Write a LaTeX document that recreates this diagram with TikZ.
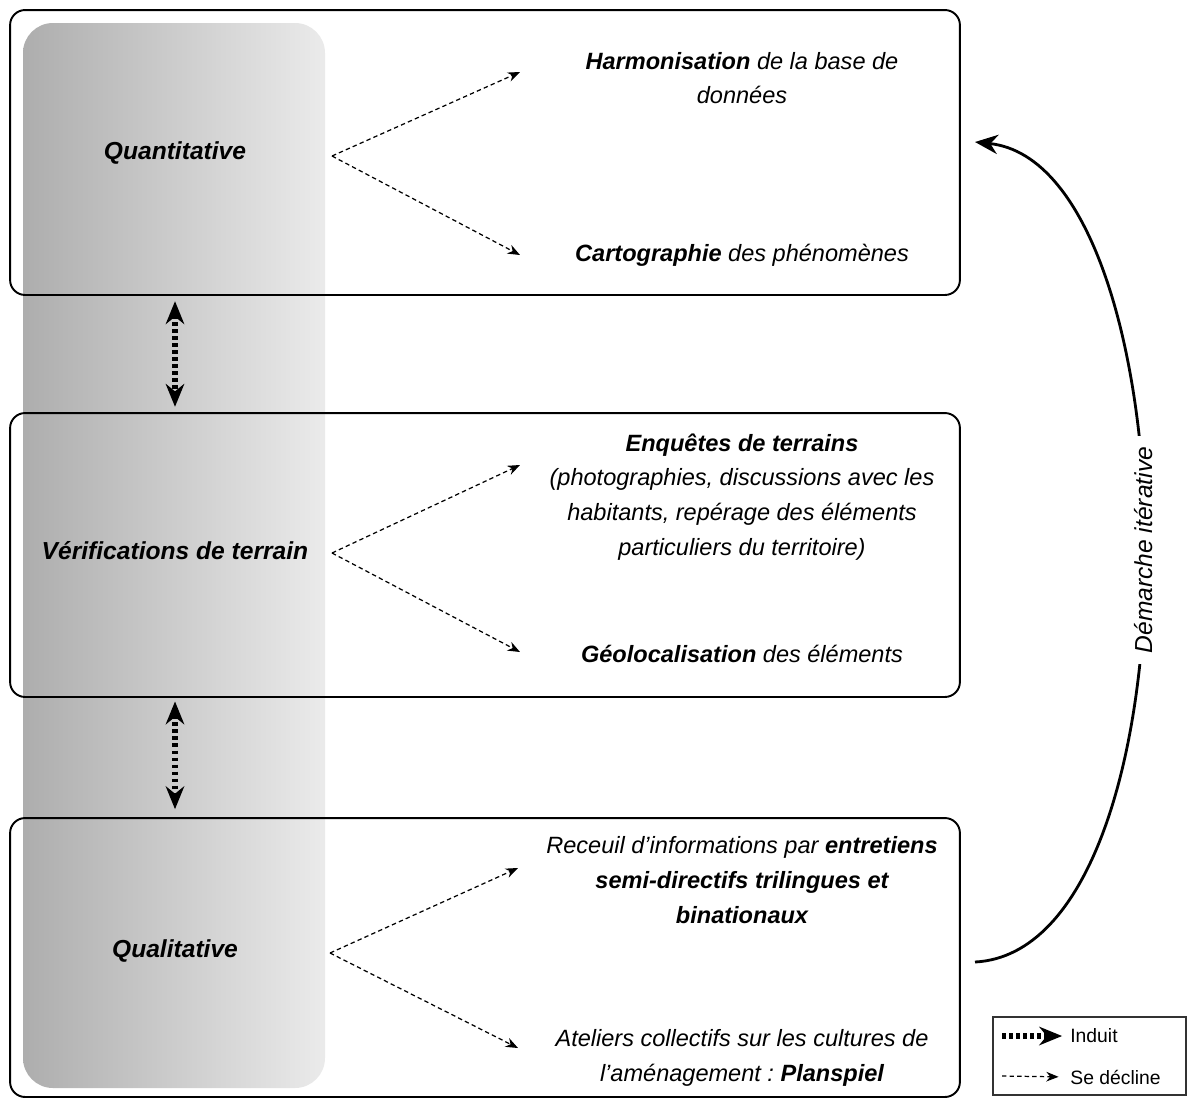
\documentclass[tikz,border=0pt]{standalone}
\usepackage{fontspec}
\setmainfont{Liberation Sans}
\usetikzlibrary{arrows.meta}

\begin{document}
\begin{tikzpicture}[x=0.02cm,y=-0.02cm,
  txt/.style={font=\fontsize{14pt}{19.8pt}\selectfont\itshape\frenchspacing,align=center,inner sep=0pt},
  detail/.style={txt,font=\fontsize{13.4pt}{19.8pt}\selectfont\itshape\frenchspacing},
  legtxt/.style={font=\fontsize{11pt}{13pt}\selectfont,anchor=west,inner sep=0pt},
  cadre/.style={draw,line width=1.1pt,rounded corners=0.3cm,minimum width=19cm,inner sep=0pt},
  decline/.style={-{Stealth[length=7pt,width=5.5pt]},line width=0.7pt,dash pattern=on 2.5pt off 1.8pt},
  induit/.style={line width=3.4pt,dash pattern=on 2pt off 2pt},
  tete/.tip={Stealth[length=13pt,width=10.5pt]}]
\useasboundingbox (0,0) rectangle (1187,1100);

\shade[left color=black!32,right color=black!8,rounded corners=0.6cm] (23,23) rectangle (325,1088);

\node[cadre,minimum height=5.7cm] (quanti) at (485,152.5) {};
\node[cadre,minimum height=5.68cm] (terrain) at (485,555) {};
\node[cadre,minimum height=5.58cm] (quali) at (485,957.5) {};

\node[txt] (lquanti) at (175,153) {\bfseries Quantitative};
\node[txt] (lterrain) at (175,551) {\bfseries Vérifications de terrain};
\node[txt] (lquali) at (175,951) {\bfseries Qualitative};

\node[detail] (harmo) at (742,78) {\textbf{Harmonisation} de la base de\\données};
\node[detail] (carto) at (742,255) {\textbf{Cartographie} des phénomènes};
\node[detail] (enquete) at (742,497) {\textbf{Enquêtes de terrains}\\(photographies, discussions avec les\\habitants, repérage des éléments\\particuliers du territoire)};
\node[detail] (geoloc) at (742,654) {\textbf{Géolocalisation} des éléments};
\node[detail] (receuil) at (742,880) {Receuil d’informations par \textbf{entretiens}\\\textbf{semi-directifs trilingues et}\\\textbf{binationaux}};
\node[detail] (ateliers) at (742,1058) {Ateliers collectifs sur les cultures de\\l’aménagement : \textbf{Planspiel}};

\coordinate (f1) at (332,156);
\coordinate (a1) at (520,72);
\coordinate (b1) at (520,255);
\coordinate (f2) at (332,553);
\coordinate (a2) at (520,465);
\coordinate (b2) at (520,652);
\coordinate (f3) at (330,953);
\coordinate (a3) at (518,868);
\coordinate (b3) at (518,1048);

\draw[decline] (f1) -- (a1);
\draw[decline] (f1) -- (b1);
\draw[decline] (f2) -- (a2);
\draw[decline] (f2) -- (b2);
\draw[decline] (f3) -- (a3);
\draw[decline] (f3) -- (b3);

\draw[induit,tete-tete,shorten <=3pt,shorten >=3pt] (quanti.south -| lquanti) -- (terrain.north -| lquanti);
\draw[induit,tete-tete,shorten <=2pt,shorten >=4.5pt] (terrain.south -| lquanti) -- (quali.north -| lquanti);

\coordinate (d0) at (975,962);
\coordinate (d1) at (975,142);
\draw[line width=1.6pt,-{Stealth[length=13pt,width=11pt]}] (d0) .. controls (1205,950) and (1195,165) .. node[pos=0.505,txt,fill=white,rotate=90,inner xsep=6pt,inner ysep=2pt] (demarche) {Démarche itérative} (d1);

\draw[line width=0.6pt,black!80] (993,1017) rectangle (1186,1095);
\node[legtxt] (lginduit) at (1070,1036) {Induit};
\node[legtxt] (lgdecline) at (1070,1077) {Se décline};
\coordinate (lg1) at (1002,1036);
\coordinate (lg2) at (1002,1076);
\draw[induit,line width=3pt,-tete,shorten >=4.5pt] (lg1) -- (lginduit.west);
\draw[decline,shorten >=6.5pt] (lg2) -- (lgdecline.west);
\end{tikzpicture}
\end{document}
